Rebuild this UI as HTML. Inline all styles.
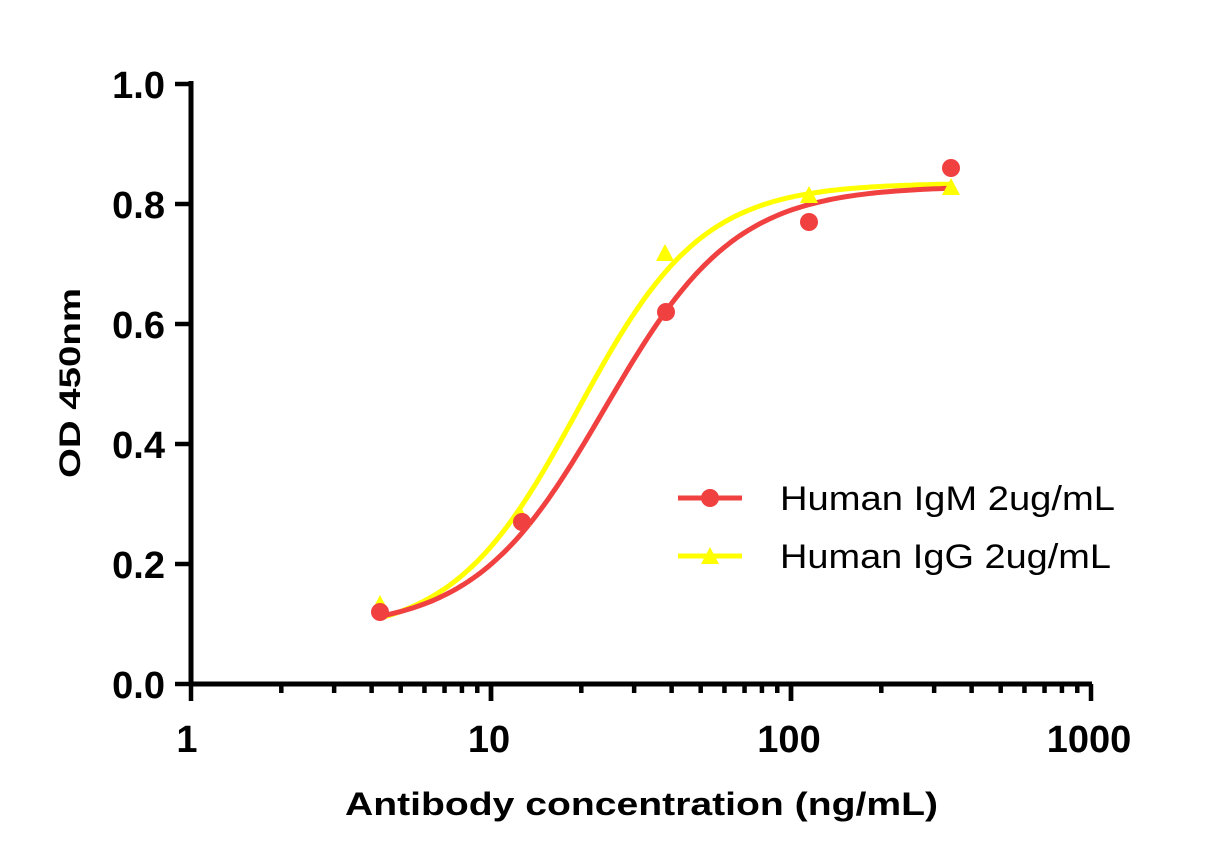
<!DOCTYPE html>
<html><head><meta charset="utf-8"><style>html,body{margin:0;padding:0;background:#fff}svg{display:block}</style></head>
<body>
<svg width="1229" height="866" viewBox="0 0 1229 866" xmlns="http://www.w3.org/2000/svg" font-family="Liberation Sans, Arial, sans-serif">
<g id="ticks" stroke="#000" stroke-width="4.5"></g>
<line x1="191" y1="81" x2="191" y2="686" stroke="#000" stroke-width="5"/>
<line x1="189" y1="684" x2="1092" y2="684" stroke="#000" stroke-width="5"/>
<g font-size="38" font-weight="bold" text-anchor="end">
<text x="165" y="98">1.0</text><text x="165" y="218">0.8</text><text x="165" y="338">0.6</text>
<text x="165" y="458">0.4</text><text x="165" y="578">0.2</text><text x="165" y="698">0.0</text>
</g>
<g font-size="38" font-weight="bold" text-anchor="middle">
<text x="187" y="752">1</text><text x="489" y="752">10</text><text x="789" y="752">100</text><text x="1089" y="752">1000</text>
</g>
<text x="345" y="815" font-size="32" font-weight="bold" textLength="593" lengthAdjust="spacingAndGlyphs">Antibody concentration (ng/mL)</text>
<text transform="translate(80,478) rotate(-90)" font-size="30" font-weight="bold" textLength="190" lengthAdjust="spacingAndGlyphs">OD 450nm</text>
<path id="yc" fill="none" stroke="#ffff00" stroke-width="5"/>
<path id="rc" fill="none" stroke="#f04040" stroke-width="5"/>
<g fill="#ffff00">
<polygon points="380,595 371,612 389,612"/><polygon points="522,509 513,526 531,526"/>
<polygon points="665,244 656,261 674,261"/><polygon points="809,186 800,203 818,203"/>
<polygon points="951,178 942,195 960,195"/>
</g>
<g fill="#f04040">
<circle cx="380" cy="612" r="9"/><circle cx="522" cy="522" r="9"/><circle cx="666" cy="312" r="9"/>
<circle cx="809" cy="222" r="9"/><circle cx="951" cy="168" r="9"/>
</g>
<line x1="678" y1="498" x2="742" y2="498" stroke="#f04040" stroke-width="5"/>
<circle cx="710" cy="498" r="9" fill="#f04040"/>
<line x1="678" y1="556" x2="742" y2="556" stroke="#ffff00" stroke-width="5"/>
<polygon points="710,547 701,564 719,564" fill="#ffff00"/>
<text x="780" y="510" font-size="34" textLength="335" lengthAdjust="spacingAndGlyphs">Human IgM 2ug/mL</text>
<text x="780" y="568" font-size="34" textLength="331" lengthAdjust="spacingAndGlyphs">Human IgG 2ug/mL</text>
</svg>
<script>
function curve(b,t,c,h){var d="";for(var x=380;x<=952;x+=4){var lx=(x-191)/300;var v=b+(t-b)/(1+Math.pow(10,(c-lx)*h));var y=684-600*v;d+=(d?" L":"M")+x+","+y.toFixed(1);}return d;}
document.getElementById("rc").setAttribute("d",curve(0.09,0.83,1.38,2.0));
document.getElementById("yc").setAttribute("d",curve(0.08,0.835,1.29,2.1));
var g=document.getElementById("ticks"),s="";
for(var v=0;v<=5;v++){var y=684-v*120;s+='<line x1="175" y1="'+y+'" x2="191" y2="'+y+'"/>';}
for(var dcd=0;dcd<3;dcd++)for(var k=1;k<=10;k++){var x=191+300*(dcd+Math.log10(k));var L=(k==1||k==10)?17:9;s+='<line x1="'+x+'" y1="684" x2="'+x+'" y2="'+(684+L)+'"/>';}
g.innerHTML=s;
</script>
</body></html>
